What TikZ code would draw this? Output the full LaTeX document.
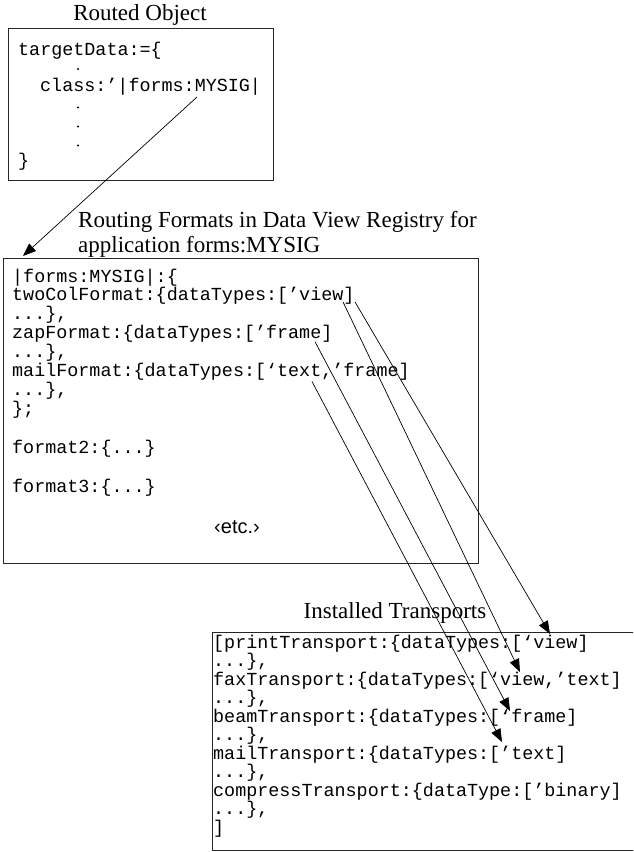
\documentclass[tikz,border=0pt]{standalone}
\usepackage{fontspec}
\setmainfont{Liberation Serif}
\newfontfamily\codefont{Liberation Mono}
\newfontfamily\etcfont{Liberation Sans}
\usetikzlibrary{calc}
\usetikzlibrary{arrows.meta}

\tikzset{
  code/.style={font=\codefont\fontsize{18.4}{19}\selectfont, inner sep=0pt, anchor=base west},
  vdot/.style={circle, fill, inner sep=0pt, minimum size=2.2pt},
  caption/.style={font=\fontsize{23}{25}\selectfont, inner sep=0pt},
  panel/.style={draw=black!85, line width=1.3pt, inner sep=0pt, anchor=north west},
  route/.style={-{Triangle[length=13pt,width=10pt]}, line width=0.7pt},
}

\begin{document}
\begin{tikzpicture}[x=1pt,y=-1pt]
\useasboundingbox (0,0) rectangle (633,852);
\clip (0,0) rectangle (633,852);

% routed object
\node[caption, anchor=base] (objtitle) at (140,20) {Routed Object};
\node[panel, minimum width=265pt, minimum height=152pt] (objbox) at (8,28) {};
\node[code] (tgt) at (18,55) {targetData:=\{};
\node[vdot] (dota) at (78,69) {};
\node[code] (cls) at (40,91) {class:’|forms:MYSIG|};
\node[vdot] (dotb) at (78,107.5) {};
\node[vdot] (dotc) at (78,126.5) {};
\node[vdot] (dotd) at (78,145.5) {};
\node[code] (tgtend) at (18,166) {\}};

% formats in the registry
\node[caption, anchor=base west] (fmttitle) at (78,227) {Routing Formats in Data View Registry for};
\node[caption, anchor=base west] (fmttitleb) at (78,252) {application forms:MYSIG};
\node[panel, minimum width=475pt, minimum height=305pt] (fmtbox) at (3,258) {};
\node[code] (sig) at (12,282) {|forms:MYSIG|:\{};
\node[code] (twocol) at (12,300.9) {twoColFormat:\{dataTypes:[’view]};
\node[code] (twocolend) at (12,319.8) {...\},};
\node[code] (zap) at (12,338.7) {zapFormat:\{dataTypes:[’frame]};
\node[code] (zapend) at (12,357.6) {...\},};
\node[code] (mailfmt) at (12,376.5) {mailFormat:\{dataTypes:[‘text,’frame]};
\node[code] (mailfmtend) at (12,395.4) {...\},};
\node[code] (sigend) at (12,414.3) {\};};
\node[code] (fmtb) at (12,453) {format2:\{...\}};
\node[code] (fmtc) at (12,492) {format3:\{...\}};
\node[font=\etcfont\fontsize{20}{22}\selectfont, inner sep=0pt, anchor=base] (etc) at (237,533) {‹etc.›};

% installed transports
\node[caption, anchor=base] (trtitle) at (395,618) {Installed Transports};
\node[panel, minimum width=430pt, minimum height=218pt] (trbox) at (212,632) {};
\node[code] (print) at (213,648) {[printTransport:\{dataTypes:[‘view]};
\node[code] (printend) at (213,666.5) {...\},};
\node[code] (fax) at (213,685) {faxTransport:\{dataTypes:[‘view,’text]};
\node[code] (faxend) at (213,703.5) {...\},};
\node[code] (beam) at (213,722) {beamTransport:\{dataTypes:[‘frame]};
\node[code] (beamend) at (213,740.5) {...\},};
\node[code] (mailtr) at (213,759) {mailTransport:\{dataTypes:[’text]};
\node[code] (mailtrend) at (213,777.5) {...\},};
\node[code] (compress) at (213,796) {compressTransport:\{dataType:[’binary]};
\node[code] (compressend) at (213,814.5) {...\},};
\node[code] (trend) at (213,833) {]};

% routes
\draw[route] ($(cls.base west)+(157,6)$) -- ($(fmtbox.north west)+(20,-2)$);
\draw[route] ($(twocol.base west)+(343,1)$) -- ($(print.base west)+(337,-14)$);
\draw[route] ($(twocol.base west)+(331,1)$) -- ($(fax.base west)+(307,-13)$);
\draw[route] ($(zap.base west)+(303,3)$) -- ($(beam.base west)+(297,-11)$);
\draw[route] ($(mailfmt.base west)+(300,5)$) -- ($(mailtr.base west)+(289,-17)$);
\end{tikzpicture}
\end{document}
